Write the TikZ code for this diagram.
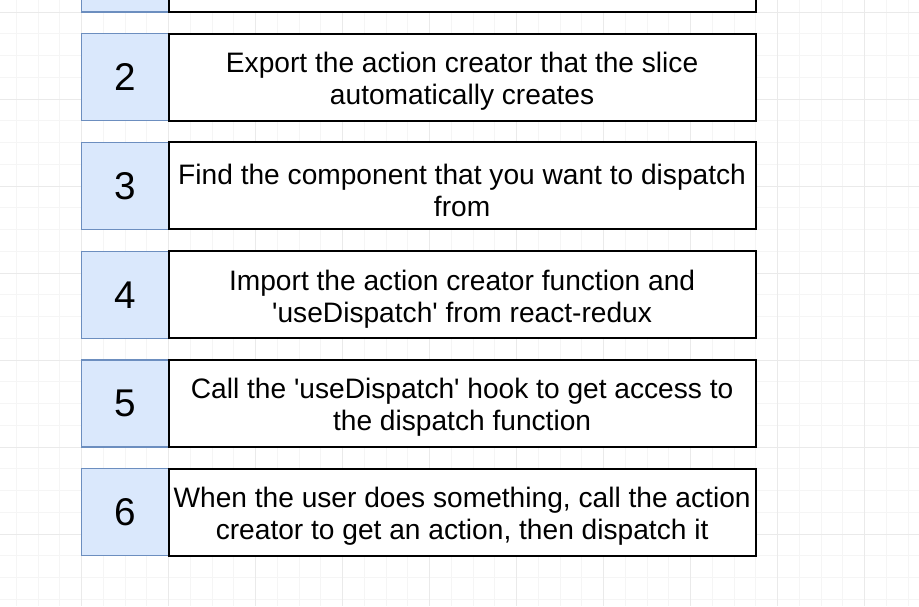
\documentclass[tikz,border=0pt]{standalone}
\usepackage{fontspec}
\setmainfont{Liberation Sans}
\usetikzlibrary{positioning}
\definecolor{numfill}{HTML}{DAE8FC}
\definecolor{numdraw}{HTML}{6C8EBF}
\definecolor{minorgrid}{HTML}{F5F5F5}
\definecolor{majorgrid}{HTML}{EAEAEA}
\newcommand{\sq}{\textquotesingle}
\newcommand{\lift}{\rule{0pt}{21.4pt}}

\begin{document}
\begin{tikzpicture}[x=0.75pt,y=-0.75pt,node distance=16.31pt,
		inner sep=0pt,outer sep=0pt]
		\tikzstyle{numbox}=[draw=numdraw,fill=numfill,line width=1.1pt,
		minimum width=65.25pt,minimum height=65.25pt,
		font=\fontsize{29}{34}\selectfont]
		\tikzstyle{textbox}=[draw=black,fill=white,line width=1.5pt,
		minimum width=440.4pt,minimum height=65.25pt,align=center,
		font=\fontsize{21.1}{24}\selectfont]
		
		\clip (0,0) rectangle (919,606);
		\fill[white] (0,0) rectangle (919,606);
		% grid
		\foreach \i in {0,...,41}
		\draw[minorgrid,line width=0.6pt] ({16.25+21.75*\i},0) -- ++(0,606);
		\foreach \j in {-1,...,27}
		\draw[minorgrid,line width=0.6pt] (0,{12+21.75*\j}) -- ++(919,0);
		\foreach \i in {0,...,9}
		\draw[majorgrid,line width=0.6pt] ({81.5+87*\i},0) -- ++(0,606);
		\foreach \j in {0,...,6}
		\draw[majorgrid,line width=0.6pt] (0,{12+87*\j}) -- ++(919,0);
		
		% steps
		\node[numbox,anchor=north west] (num1) at (81.5,-75) {};
		\node[textbox]  (step1)  [right=0pt of num1]  {};
		\node[numbox]   (num2)   [below=of num1]      {2};
		\node[textbox]  (step2)  [right=0pt of num2]
		{\lift Export the action creator that the slice\\automatically creates};
		\node[numbox]   (num3)   [below=of num2]      {3};
		\node[textbox]  (step3)  [right=0pt of num3]
		{\lift Find the component that you want to dispatch\\from};
		\node[numbox]   (num4)   [below=of num3]      {4};
		\node[textbox]  (step4)  [right=0pt of num4]
		{\lift Import the action creator function and\\\sq useDispatch\sq{} from react-redux};
		\node[numbox]   (num5)   [below=of num4]      {5};
		\node[textbox]  (step5)  [right=0pt of num5]
		{\lift Call the \sq useDispatch\sq{} hook to get access to\\the dispatch function};
		\node[numbox]   (num6)   [below=of num5]      {6};
		\node[textbox]  (step6)  [right=0pt of num6]
		{\lift When the user does something, call the action\\creator to get an action, then dispatch it};
\end{tikzpicture}
\end{document}
